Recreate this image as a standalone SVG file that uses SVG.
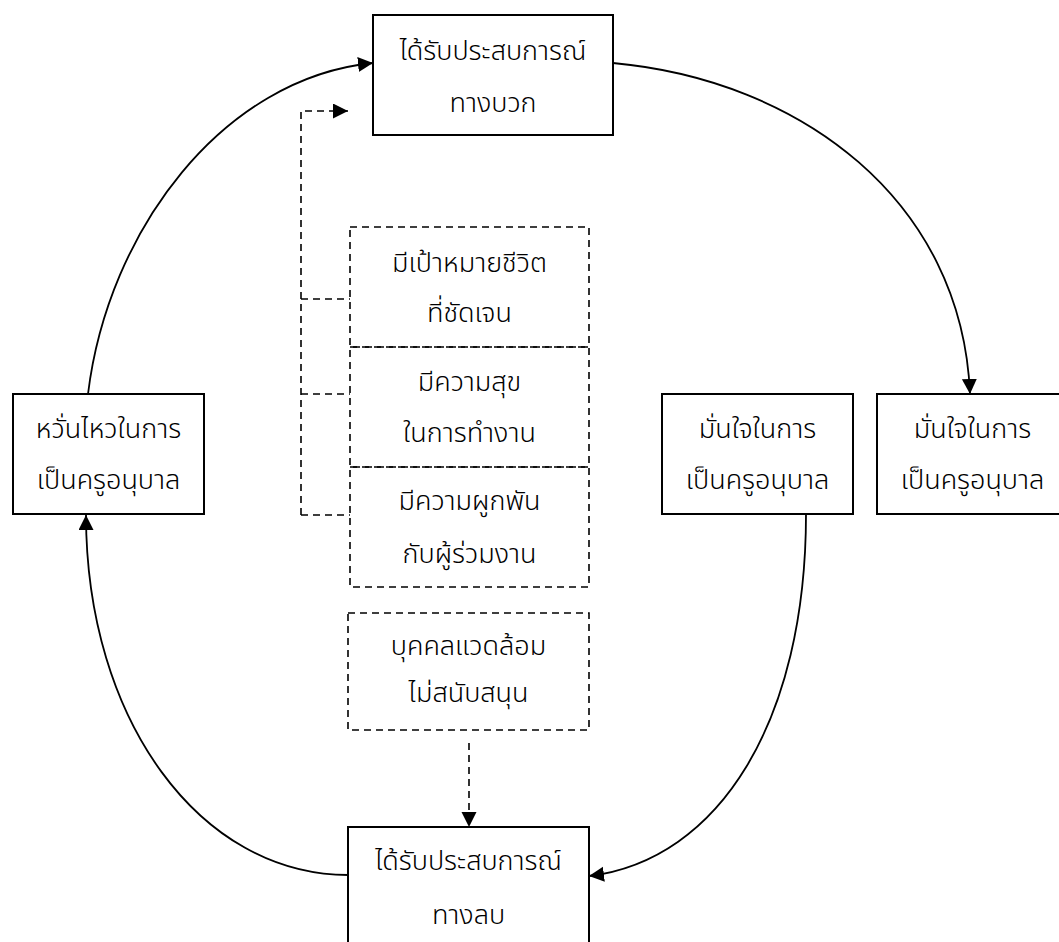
<svg xmlns="http://www.w3.org/2000/svg" width="1059" height="942" viewBox="0 0 1059 942">
<style>
.box{fill:#fff;stroke:#000;stroke-width:2}
.dbox{fill:none;stroke:#000;stroke-width:1.6;stroke-dasharray:7,5}
.t{font-family:"Noto Sans Thai","Noto Sans","DejaVu Sans",sans-serif;font-size:27px;font-weight:300;fill:#000;text-anchor:middle}
.c{fill:none;stroke:#000;stroke-width:1.8}
.d{fill:none;stroke:#000;stroke-width:1.6;stroke-dasharray:7,5}
</style>
<defs>
<marker id="ah" markerUnits="userSpaceOnUse" markerWidth="16" markerHeight="16" refX="15" refY="7.5" orient="auto">
<path d="M0,0 L15,7.5 L0,15 Z" fill="#000"/>
</marker>
</defs>
<rect width="1059" height="942" fill="#fff"/>
<g id="connectors">
<path class="c" d="M88,394 C108,230 223,78 373,63" marker-end="url(#ah)"/>
<path class="c" d="M613,63 C800,80 962,200 970,394" marker-end="url(#ah)"/>
<path class="c" d="M806,514 C806,720 720,860 589,876" marker-end="url(#ah)"/>
<path class="c" d="M348,875 C200,875 86,720 86,515" marker-end="url(#ah)"/>
<path class="d" d="M301,515 L301,111 L348,111" marker-end="url(#ah)"/>
<path class="d" d="M301,299 L350,299 M301,394 L350,394 M301,515 L350,515"/>
<path class="d" d="M469,743 L469,827" marker-end="url(#ah)"/>
</g>
<g id="n-positive">
<rect class="box" x="373" y="15" width="240" height="120"/>
<text class="t" x="493" y="60">ได้รับประสบการณ์</text>
<text class="t" x="493" y="112">ทางบวก</text>
</g>
<g id="n-goal">
<rect class="dbox" x="350" y="227" width="239" height="120"/>
<text class="t" x="469.5" y="272">มีเป้าหมายชีวิต</text>
<text class="t" x="469.5" y="322">ที่ชัดเจน</text>
</g>
<g id="n-happy">
<rect class="dbox" x="350" y="347" width="239" height="120"/>
<text class="t" x="469.5" y="391">มีความสุข</text>
<text class="t" x="469.5" y="442">ในการทำงาน</text>
</g>
<g id="n-bond">
<rect class="dbox" x="350" y="467" width="239" height="120"/>
<text class="t" x="469.5" y="510">มีความผูกพัน</text>
<text class="t" x="469.5" y="563">กับผู้ร่วมงาน</text>
</g>
<g id="n-env">
<rect class="dbox" x="348" y="613" width="241" height="117"/>
<text class="t" x="468.5" y="655">บุคคลแวดล้อม</text>
<text class="t" x="468.5" y="702">ไม่สนับสนุน</text>
</g>
<g id="n-negative">
<rect class="box" x="348" y="827" width="241" height="130"/>
<text class="t" x="468.5" y="870">ได้รับประสบการณ์</text>
<text class="t" x="468.5" y="924">ทางลบ</text>
</g>
<g id="n-waver">
<rect class="box" x="13" y="394" width="191" height="120"/>
<text class="t" x="108.5" y="438">หวั่นไหวในการ</text>
<text class="t" x="108.5" y="489">เป็นครูอนุบาล</text>
</g>
<g id="n-confident1">
<rect class="box" x="662" y="394" width="191" height="120"/>
<text class="t" x="757.5" y="438">มั่นใจในการ</text>
<text class="t" x="757.5" y="489">เป็นครูอนุบาล</text>
</g>
<g id="n-confident2">
<rect class="box" x="877" y="394" width="191" height="120"/>
<text class="t" x="972.5" y="438">มั่นใจในการ</text>
<text class="t" x="972.5" y="489">เป็นครูอนุบาล</text>
</g>
</svg>
